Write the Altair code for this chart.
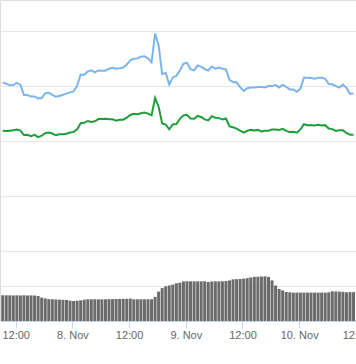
import altair as alt
import pandas as pd

# 45-minute sampling, first point 7 Nov 09:15 UTC
times = pd.date_range("2017-11-07 09:15", periods=100, freq="45min").strftime("%Y-%m-%dT%H:%M:%SZ").tolist()

series_a = [153.3, 152.1, 150.6, 150.8, 152.8, 150.9, 141.9, 141.8, 140.4, 140.5,
            138.7, 139.1, 143.5, 143.9, 141.9, 140.2, 140.9, 142.1, 143.1, 144.2,
            145.1, 150.1, 160.4, 160.3, 163.2, 164.3, 162.4, 164.1, 163.8, 163.9,
            165.7, 166.6, 165.7, 166.2, 166.8, 169.4, 173.4, 174.7, 175.1, 176.7,
            177.1, 175.1, 171.4, 197.7, 187.1, 160.7, 161.9, 151.4, 157.8, 159.2,
            164.2, 170.1, 171.1, 165.2, 164.2, 168.6, 167.6, 165.4, 164.1, 167.6,
            165.7, 166.7, 165.7, 165.1, 155.6, 153.3, 153.3, 148.9, 145.5, 148.0,
            148.6, 148.7, 149.0, 149.1, 148.6, 150.0, 149.9, 150.8, 148.7, 151.0,
            149.3, 146.9, 146.8, 144.8, 147.6, 157.6, 157.5, 157.2, 156.6, 157.4,
            157.6, 156.6, 151.7, 151.5, 149.9, 148.6, 151.2, 148.3, 142.9, 143.3]

series_b = [109.3, 109.1, 109.4, 109.7, 110.5, 109.4, 105.4, 105.7, 104.4, 105.6,
            103.5, 104.8, 107.2, 107.7, 106.8, 105.2, 106.1, 106.1, 106.6, 107.7,
            108.3, 110.7, 116.1, 116.5, 118.2, 117.2, 117.9, 119.9, 120.0, 120.2,
            119.7, 119.8, 118.5, 119.3, 119.4, 121.2, 123.7, 124.8, 124.4, 125.3,
            125.9, 124.9, 123.3, 139.2, 131.2, 115.9, 115.0, 110.6, 115.0, 115.4,
            120.2, 123.3, 123.9, 120.4, 120.2, 122.8, 121.8, 119.6, 118.7, 122.6,
            121.2, 120.8, 119.5, 120.4, 113.2, 112.5, 111.3, 109.4, 107.7, 109.3,
            110.1, 109.6, 110.1, 108.7, 109.3, 109.4, 110.4, 110.4, 110.1, 111.1,
            109.2, 108.2, 108.3, 107.5, 110.5, 115.3, 114.4, 114.6, 114.2, 114.7,
            114.1, 114.4, 111.3, 110.8, 109.2, 109.7, 109.7, 107.3, 105.7, 105.7]

volume = [73.4, 73.4, 73.4, 73.0, 73.4, 73.0, 73.4, 73.0, 73.2, 72.8,
          71.5, 67.0, 64.5, 62.5, 62.0, 61.5, 61.0, 60.5, 60.0, 58.0,
          57.1, 58.0, 59.0, 61.0, 62.0, 62.0, 62.0, 62.0, 62.0, 62.0,
          62.3, 62.5, 62.8, 63.0, 63.3, 63.5, 64.0, 62.0, 62.0, 62.0,
          62.0, 62.0, 62.0, 69.0, 84.0, 94.0, 99.0, 101.5, 104.0, 108.0,
          109.5, 113.0, 113.4, 113.4, 113.4, 113.4, 113.4, 113.4, 111.4, 113.0,
          113.4, 113.4, 113.4, 114.3, 116.0, 119.0, 119.5, 120.0, 121.0, 122.5,
          124.5, 126.3, 126.5, 127.0, 127.5, 126.0, 116.0, 101.5, 91.5, 87.5,
          83.0, 82.0, 81.1, 81.1, 81.1, 81.1, 81.1, 81.1, 81.1, 81.1,
          81.1, 81.1, 82.0, 84.9, 84.5, 84.0, 83.4, 82.0, 82.5, 82.5]

tick_times = [(7, 12), (8, 0), (8, 12), (9, 0), (9, 12), (10, 0), (10, 12)]

df = pd.DataFrame({"time": times, "A": series_a, "B": series_b, "volume": volume})

x_scale = alt.Scale(type="utc", domain=[alt.DateTime(year=2017, month=11, date=7, hours=9, minutes=44, seconds=14, utc=True),
                                         alt.DateTime(year=2017, month=11, date=10, hours=10, minutes=57, seconds=47, utc=True)])
x_axis = alt.Axis(
    values=[alt.DateTime(year=2017, month=11, date=d, hours=h, utc=True) for d, h in tick_times],
    labelExpr="utchours(datum.value) == 0 ? utcFormat(datum.value, '%-d. %b') : utcFormat(datum.value, '%H:%M')",
    title=None, grid=False, domainColor="#ccd6eb", tickColor="#ccd6eb", tickSize=7,
    labelPadding=1, labelFont="Liberation Sans", labelFontSize=11, labelColor="#666666",
    labelOverlap=False, labelBound=False, labelFlush=False,
)

base = alt.Chart(df)

bars = base.mark_bar(size=3, color="#6b6b6b", clip=True).encode(
    x=alt.X("time:T", scale=x_scale, axis=x_axis),
    y=alt.Y("volume:Q", scale=alt.Scale(domain=[0, 100], range=[321, 286], zero=True, nice=False),
            axis=alt.Axis(values=[100], grid=True, gridColor="#e6e6e6", labels=False, ticks=False,
                          domain=False, title=None)),
)

lines = base.transform_fold(["A", "B"], as_=["series", "value"]).mark_line(strokeWidth=2, clip=True).encode(
    x=alt.X("time:T", scale=x_scale, axis=x_axis),
    y=alt.Y("value:Q", scale=alt.Scale(domain=[0, 200], range=[251, 31], zero=False, nice=False),
            axis=alt.Axis(values=[0, 50, 100, 150, 200], grid=True, gridColor="#e6e6e6", labels=False,
                          ticks=False, domain=False, title=None)),
    color=alt.Color("series:N", scale=alt.Scale(domain=["A", "B"], range=["#7cb5ec", "#1e9e3a"]), legend=None),
)

chart = alt.layer(bars, lines).resolve_scale(y="independent").properties(
    width=356, height=321,
    autosize=alt.AutoSizeParams(type="none"),
    padding={"left": 0, "top": 0, "right": 0, "bottom": 43},
).configure_view(strokeWidth=0).configure(background="white")

chart.save("out.html", embed_options={"renderer": "svg", "actions": False})
